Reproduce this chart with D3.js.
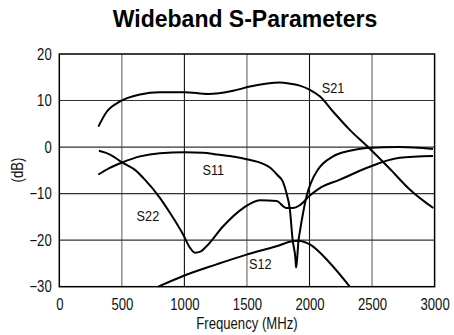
<!DOCTYPE html>
<html>
<head>
<meta charset="utf-8">
<script src="https://cdn.jsdelivr.net/npm/d3@7"></script>
<style>
  html, body { margin: 0; padding: 0; background: #fff; }
  svg { display: block; }
  text { font-family: "Liberation Sans", Arial, Helvetica, sans-serif; }
</style>
</head>
<body>
<svg id="chart" width="454" height="335"></svg>
<script>
// ---- data ----
const title = "Wideband S-Parameters";
const xLabel = "Frequency (MHz)";
const yLabel = "(dB)";
const xTicks = [0, 500, 1000, 1500, 2000, 2500, 3000];
const yTicks = [-30, -20, -10, 0, 10, 20];

const s21Freq = [312, 379, 485, 645, 804, 1000, 1190, 1390, 1523, 1763, 1850, 1922, 2003, 2082, 2189, 2322, 2468, 2640, 2801, 2990];
const s21Val  = [4.4, 7.6, 9.8, 11.3, 11.8, 11.8, 11.4, 12.1, 13.0, 13.9, 13.6, 13.2, 12.3, 10.9, 7.6, 3.7, 0.0, -4.6, -9.1, -13.1];

const s11Freq = [312, 400, 503, 645, 804, 1000, 1150, 1257, 1400, 1497, 1630, 1683, 1747, 1787, 1819, 1843, 1865, 1888, 1893, 1901, 1910, 1926, 1949, 1978, 2016, 2066, 2189, 2322, 2455, 2720, 2987];
const s11Val  = [-5.9, -4.5, -3.3, -2.0, -1.3, -1.1, -1.2, -1.6, -2.1, -2.6, -3.6, -4.4, -6.1, -7.4, -10.2, -13.4, -19.9, -24.1, -25.9, -24.1, -20.7, -17.7, -14.1, -10.4, -7.4, -4.9, -2.0, -0.8, -0.2, 0.0, -0.4];

const s22Freq = [317, 405, 503, 605, 684, 804, 884, 990, 1044, 1084, 1132, 1177, 1310, 1470, 1603, 1736, 1816, 1867, 1922, 2003, 2082, 2243, 2455, 2720, 2987];
const s22Val  = [-0.8, -1.6, -3.3, -4.9, -7.0, -10.9, -14.1, -18.8, -21.6, -22.7, -22.4, -21.3, -17.0, -13.1, -11.4, -11.6, -13.1, -13.1, -12.5, -10.4, -8.8, -7.0, -4.5, -2.3, -1.9];

const s12Freq = [791, 990, 1257, 1497, 1736, 1869, 1910, 2003, 2163, 2322];
const s12Val  = [-30.0, -27.7, -25.2, -23.1, -21.3, -20.2, -20.1, -20.9, -24.9, -30.0];

const labelNames = ["S21", "S11", "S22", "S12"];
const labelFreq  = [2098, 1145, 618, 1517];
const labelDb    = [11.6, -5.9, -15.9, -26.1];

// ---- layout ----
const svg = d3.select("#chart");
const pLeft = 59.3, pRight = 434.6, pTop = 54, pBottom = 286.7;
const sx = 0.82; // horizontal condensing of the label font
const x = d3.scaleLinear().domain([0, 3000]).range([pLeft, pRight]);
const y = d3.scaleLinear().domain([-30, 20]).range([pBottom, pTop]);

// title
svg.append("text")
  .attr("x", 245).attr("y", 27)
  .attr("text-anchor", "middle")
  .attr("font-weight", "bold")
  .attr("font-size", 23)
  .attr("fill", "#000")
  .text(title);

// grid
const grid = svg.append("g");
grid.selectAll("line.v").data(xTicks.slice(1, -1)).enter().append("line")
  .attr("x1", d => x(d)).attr("x2", d => x(d))
  .attr("y1", pTop).attr("y2", pBottom)
  .attr("stroke", d => (d % 1000 === 0 ? "#111" : "#666"))
  .attr("stroke-width", 1.1);
grid.selectAll("line.h").data(yTicks.slice(1, -1)).enter().append("line")
  .attr("x1", pLeft).attr("x2", pRight)
  .attr("y1", d => y(d)).attr("y2", d => y(d))
  .attr("stroke", "#333")
  .attr("stroke-width", 1.1);

// axes (labels only)
const xAxis = d3.axisBottom(x).tickValues(xTicks).tickSize(0).tickPadding(12).tickFormat(d3.format("d"));
const gx = svg.append("g").attr("transform", `translate(0,${pBottom})`).call(xAxis);
gx.select(".domain").remove();
gx.selectAll("text")
  .attr("font-family", null)
  .attr("font-size", 16).attr("fill", "#111")
  .attr("transform", `scale(${sx},1)`);
gx.attr("font-family", null);

const yAxis = d3.axisLeft(y).tickValues(yTicks).tickSize(0).tickPadding(7.6).tickFormat(d3.format("d"));
const gy = svg.append("g").attr("transform", `translate(${pLeft},0)`).call(yAxis);
gy.select(".domain").remove();
gy.attr("font-family", null);
gy.selectAll("text")
  .attr("font-size", 16).attr("fill", "#111")
  .attr("x", -7.6 / sx)
  .attr("transform", `scale(${sx},1)`);

// border
svg.append("rect")
  .attr("x", pLeft).attr("y", pTop)
  .attr("width", pRight - pLeft).attr("height", pBottom - pTop)
  .attr("fill", "none").attr("stroke", "#000").attr("stroke-width", 1.5);

// curves
const line = d3.line().x(d => x(d[0])).y(d => y(d[1])).curve(d3.curveMonotoneX);
const series = [
  d3.zip(s21Freq, s21Val),
  d3.zip(s11Freq, s11Val),
  d3.zip(s22Freq, s22Val),
  d3.zip(s12Freq, s12Val)
];
svg.append("g").selectAll("path").data(series).enter().append("path")
  .attr("d", line)
  .attr("fill", "none")
  .attr("stroke", "#000")
  .attr("stroke-width", 2);

// curve labels
svg.append("g").selectAll("text").data(labelNames).enter().append("text")
  .attr("x", (d, i) => x(labelFreq[i]) / sx)
  .attr("y", (d, i) => y(labelDb[i]))
  .attr("transform", `scale(${sx},1)`)
  .attr("font-size", 15.5)
  .attr("fill", "#111")
  .text(d => d);

// axis titles
svg.append("text")
  .attr("x", ((pLeft + pRight) / 2) / sx).attr("y", 329.5)
  .attr("transform", `scale(${sx},1)`)
  .attr("text-anchor", "middle")
  .attr("font-size", 16)
  .attr("fill", "#111")
  .text(xLabel);

svg.append("text")
  .attr("transform", `translate(22.5,170) rotate(-90) scale(${sx},1)`)
  .attr("text-anchor", "middle")
  .attr("font-size", 16)
  .attr("fill", "#111")
  .text(yLabel);
</script>
</body>
</html>
